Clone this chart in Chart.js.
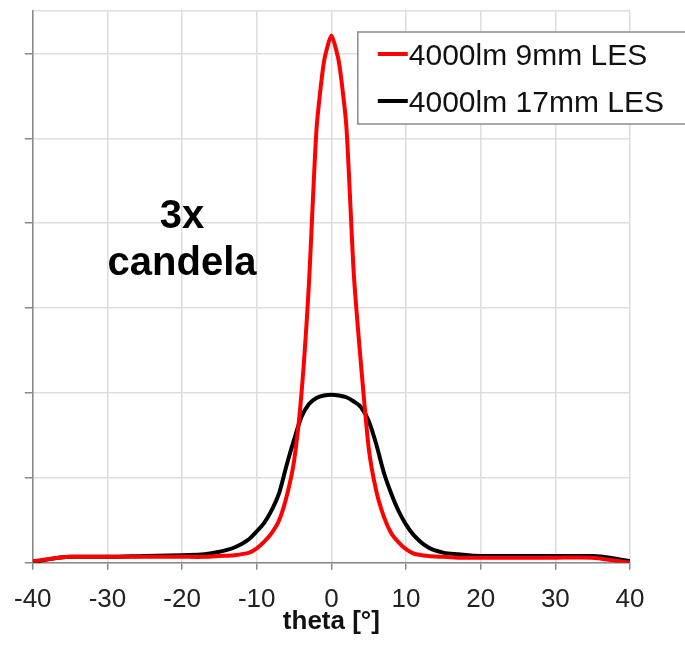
<!DOCTYPE html>
<html>
<head>
<meta charset="utf-8">
<script src="https://cdn.jsdelivr.net/npm/chart.js@4"></script>
<style>
  html, body { margin: 0; padding: 0; background: #fff; }
  #wrap { width: 685px; height: 652px; }
</style>
</head>
<body>
<div id="wrap"><canvas id="grafico"></canvas></div>
<script>
// angulos (grados) y candela relativa de cada fuente
const theta = [-40, -35, -30, -25, -20, -17, -15, -13, -11, -10, -9, -8, -7, -6, -5, -4, -3, -2, -1, 0,
               1, 2, 3, 4, 5, 6, 7, 8, 9, 10, 11, 13, 15, 17, 20, 25, 30, 35, 40];
const les9mm = [0.02, 0.07, 0.07, 0.07, 0.07, 0.07, 0.08, 0.09, 0.12, 0.17, 0.25, 0.35, 0.5, 0.78, 1.2, 2.0, 3.3, 5.1, 5.9, 6.21,
                5.9, 5.15, 3.4, 2.3, 1.35, 0.85, 0.55, 0.35, 0.24, 0.16, 0.11, 0.08, 0.07, 0.06, 0.06, 0.06, 0.06, 0.06, 0.0];
const les17mm = [0.01, 0.07, 0.07, 0.08, 0.09, 0.1, 0.13, 0.18, 0.28, 0.37, 0.47, 0.62, 0.82, 1.15, 1.45, 1.72, 1.87, 1.94, 1.97, 1.98,
                 1.97, 1.95, 1.9, 1.83, 1.67, 1.4, 1.07, 0.82, 0.61, 0.45, 0.33, 0.18, 0.12, 0.1, 0.08, 0.08, 0.08, 0.08, 0.02];
const etiquetas = ['4000lm 9mm LES', '4000lm 17mm LES'];
const colores = ['#ff0000', '#000000'];
const nota = ['3x', 'candela'];

const puntos = (ys) => theta.map((x, i) => ({ x: x, y: ys[i] }));

// leyenda dentro del grafico y texto "3x candela"
const extras = {
    id: 'extras',
    afterDraw(chart) {
        const c = chart.ctx;
        const area = chart.chartArea;
        const sx = chart.scales.x, sy = chart.scales.y;

        c.save();
        c.fillStyle = '#000';
        c.textAlign = 'center';
        c.textBaseline = 'alphabetic';
        c.font = 'bold 40px "Liberation Sans", Arial, sans-serif';
        c.fillText(nota[0], sx.getPixelForValue(-20), sy.getPixelForValue(3.94));
        c.fillText(nota[1], sx.getPixelForValue(-20), sy.getPixelForValue(3.39));

        const lx = area.left + 325, ly = area.top + 21;
        c.fillStyle = '#fff';
        c.fillRect(lx, ly, 400, 92);
        c.strokeStyle = '#8a8a8a';
        c.lineWidth = 1.5;
        c.strokeRect(lx, ly, 400, 92);
        c.font = '30px "Liberation Sans", Arial, sans-serif';
        c.textAlign = 'left';
        chart.data.datasets.forEach((ds, i) => {
            const y = ly + 22 + i * 47;
            c.strokeStyle = ds.borderColor;
            c.lineWidth = 4;
            c.beginPath();
            c.moveTo(lx + 20, y);
            c.lineTo(lx + 50, y);
            c.stroke();
            c.fillStyle = '#111';
            c.fillText(ds.label, lx + 51, y + 11);
        });
        c.restore();
    }
};

new Chart(document.getElementById('grafico'), {
    type: 'line',
    data: {
        datasets: [{
            label: etiquetas[0],
            data: puntos(les9mm),
            borderColor: colores[0],
            borderWidth: 4,
            pointRadius: 0,
            tension: 0.2
        }, {
            label: etiquetas[1],
            data: puntos(les17mm),
            borderColor: colores[1],
            borderWidth: 4,
            pointRadius: 0,
            cubicInterpolationMode: 'monotone'
        }]
    },
    options: {
        responsive: true,
        maintainAspectRatio: false,
        animation: false,
        layout: { padding: { left: 24, right: 55, top: 11, bottom: 17 } },
        plugins: {
            legend: { display: false },
            tooltip: { enabled: false }
        },
        scales: {
            x: {
                type: 'linear',
                min: -40,
                max: 40,
                ticks: {
                    stepSize: 10,
                    color: '#222',
                    font: { family: '"Liberation Sans", Arial, sans-serif', size: 26 },
                    padding: 14
                },
                grid: { color: '#dedede', lineWidth: 1.5, tickLength: 7, tickColor: '#888' },
                border: { color: '#888', width: 1.5 },
                title: {
                    display: true,
                    text: 'theta [°]',
                    color: '#111',
                    font: { family: '"Liberation Sans", Arial, sans-serif', size: 26, weight: 'bold', lineHeight: 1 },
                    padding: { top: -20, bottom: 0 }
                }
            },
            y: {
                min: 0,
                max: 6.5,
                ticks: { stepSize: 1, display: false },
                grid: {
                    color: '#dedede',
                    lineWidth: 1.5,
                    tickLength: 8,
                    tickColor: (ctx) => ctx.tick && ctx.tick.value > 6 ? 'rgba(0,0,0,0)' : '#888'
                },
                border: { color: '#888', width: 1.5 }
            }
        }
    },
    plugins: [extras]
});
</script>
</body>
</html>
